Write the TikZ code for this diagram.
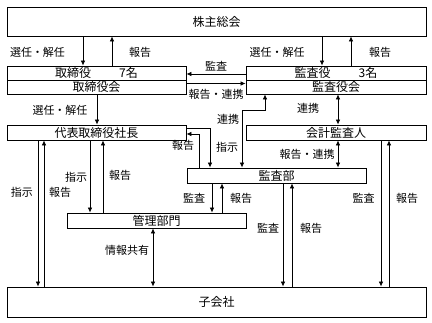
\documentclass[tikz,border=0pt]{standalone}
\usepackage{fontspec}
\setmainfont{Noto Sans CJK JP}
\usetikzlibrary{arrows.meta}

\begin{document}
\begin{tikzpicture}[x=1pt,y=-1pt,>={Latex[length=5pt,width=4.5pt]},line width=0.7pt,every node/.style={font=\fontsize{11}{11}\selectfont,inner sep=0pt},box/.style={draw,line width=0.9pt,font=\fontsize{12}{12}\selectfont,minimum height=14pt}]
\useasboundingbox (0,0) rectangle (432,323);
% boxes
\node[box,minimum width=419pt,minimum height=29pt] (holders) at (216.5,21.5) {株主総会};
\node[box,minimum width=179pt] (dir) at (96.5,73) {取締役\hspace{28pt}7名};
\node[box,minimum width=179pt] (board) at (96.5,87) {取締役会};
\node[box,minimum width=180pt] (aud) at (336,73) {監査役\hspace{28pt}3名};
\node[box,minimum width=180pt] (audbd) at (336,87) {監査役会};
\node[box,minimum width=179pt,minimum height=15pt] (ceo) at (96.5,132.5) {代表取締役社長};
\node[box,minimum width=180pt,minimum height=15pt] (acct) at (336,132.5) {会計監査人};
\node[box,minimum width=179pt,minimum height=15pt] (iad) at (276.5,175.5) {監査部};
\node[box,minimum width=179pt,minimum height=15pt] (adm) at (156.5,220.5) {管理部門};
\node[box,minimum width=419pt,minimum height=30pt] (sub) at (216.5,302) {子会社};
% 株主総会
\draw[->] (83,0|-holders.south) -- (83,0|-dir.north);\draw[<-] (112,0|-holders.south) -- (112,0|-dir.north);
\draw[->] (322,0|-holders.south) -- (322,0|-aud.north);\draw[<-] (351,0|-holders.south) -- (351,0|-aud.north);
\node (selA) at (37.5,52) {選任・解任};\node (repA) at (140,52) {報告};
\node (selB) at (277,52) {選任・解任};\node (repB) at (380,52) {報告};
% 取締役会 / 監査役会
\draw[->] (aud.west|-0,74) -- (dir.east|-0,74);\draw[->] (board.east|-0,83.5) -- (audbd.west|-0,83.5);
\node (audA) at (216,66) {監査};\node (repC) at (216,94) {報告・連携};
\draw[->] (97,0|-board.south) -- (97,0|-ceo.north);\node (selC) at (60,110) {選任・解任};
\draw[<->] (338,0|-audbd.south) -- (338,0|-acct.north);\node (linkA) at (308,108) {連携};
\draw[<->] (242,0|-iad.north) |- (265,110) -- (265,0|-audbd.south);\node (linkB) at (228,119) {連携};
% 監査部
\draw[->] (ceo.east|-0,128) -| (210,0|-iad.north);\node (insA) at (227,147) {指示};
\draw[->] (199,0|-iad.north) |- (ceo.east|-0,134);\node (repD) at (183,145) {報告};
\draw[<->] (338,0|-acct.south) -- (338,0|-iad.north);\node (repE) at (307,154) {報告・連携};
\draw[->] (212,0|-iad.south) -- (212,0|-adm.north);\draw[<-] (222,0|-iad.south) -- (222,0|-adm.north);
\node (audB) at (194,198) {監査};\node (repF) at (241,198) {報告};
% 代表取締役社長
\draw[->] (38,0|-ceo.south) -- (38,0|-sub.north);\draw[<-] (44,0|-ceo.south) -- (44,0|-sub.north);
\node (insB) at (22,192) {指示};\node (repG) at (60,192) {報告};
\draw[->] (90,0|-ceo.south) -- (90,0|-adm.north);\draw[<-] (103,0|-ceo.south) -- (103,0|-adm.north);
\node (insC) at (76,177) {指示};\node (repH) at (120,175) {報告};
% 子会社
\draw[<->] (153,0|-adm.south) -- (153,0|-sub.north);\node (info) at (127,250) {情報共有};
\draw[->] (283,0|-iad.south) -- (283,0|-sub.north);\draw[<-] (292,0|-iad.south) -- (292,0|-sub.north);
\node (audC) at (268,228) {監査};\node (repI) at (311,228) {報告};
\draw[->] (381,0|-acct.south) -- (381,0|-sub.north);\draw[<-] (389,0|-acct.south) -- (389,0|-sub.north);
\node (audD) at (363.5,198) {監査};\node (repJ) at (407,198) {報告};
\end{tikzpicture}
\end{document}
